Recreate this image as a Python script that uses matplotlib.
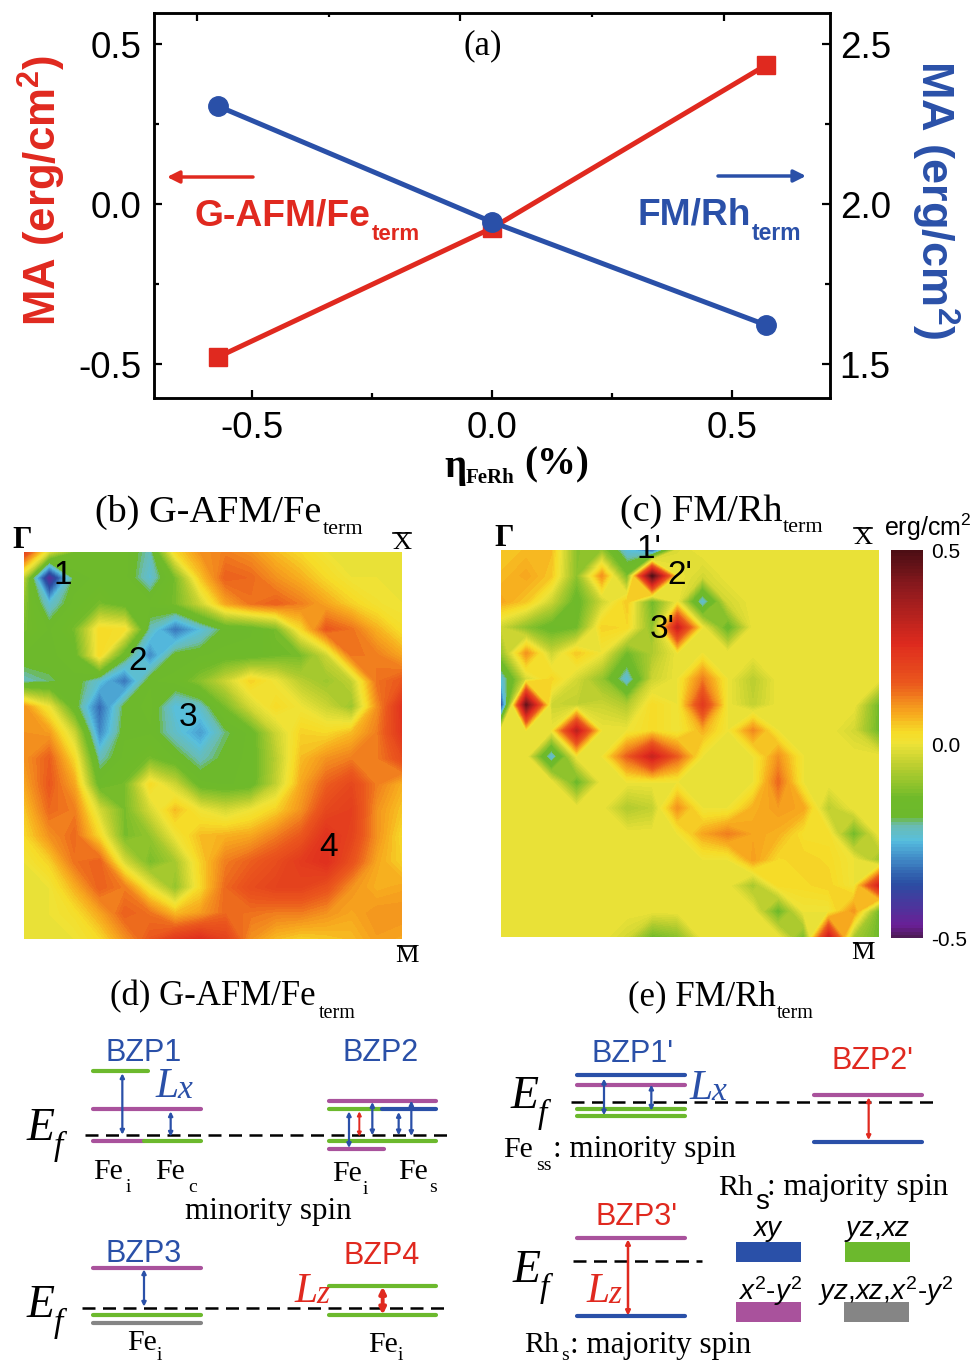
import numpy as np
from matplotlib import pyplot as plt
from matplotlib.colors import LinearSegmentedColormap

plt.rcParams['font.family'] = ['Liberation Sans', 'DejaVu Sans']
plt.rcParams['axes.unicode_minus'] = False
plt.rcParams['mathtext.fontset'] = 'custom'
plt.rcParams['mathtext.rm'] = 'Liberation Sans'
plt.rcParams['mathtext.bf'] = 'Liberation Sans:bold'
plt.rcParams['mathtext.it'] = 'Liberation Sans:italic'

# (a) strain dependence
strain = [-0.57, 0.0, 0.57]
ma_afm = [-0.478, -0.075, 0.434]
ma_fm = [2.306, 1.944, 1.622]
# the top frame has its own ticks, not lined up with the bottom ones
top_major = [-0.613, -0.0665, 0.482]
top_minor = [-0.339, 0.208]

# (b) MA on the BZ grid, G-AFM/Fe term
ma_b = [
    [.20, -.03, -.14, -.16, -.16, -.22, .03, .10, .12, .10, .06, .03, 0, 0, 0, 0],
    [-.06, -.45, -.18, -.16, -.16, -.24, -.13, .05, .15, .14, .10, .07, .03, 0, 0, 0],
    [-.11, -.24, -.16, -.13, -.16, -.16, -.13, -.04, .08, .13, .15, .12, .08, .04, .01, 0],
    [-.13, -.17, -.13, .03, .02, -.22, -.32, -.25, -.18, -.17, -.13, .03, .16, .13, .07, .02],
    [-.17, -.17, -.16, .03, -.17, -.30, -.18, -.17, -.16, -.16, -.14, -.13, -.04, .13, .12, .08],
    [-.22, -.20, -.17, -.24, -.32, -.17, -.16, -.11, -.04, .04, 0, -.06, -.09, -.05, .13, .16],
    [.10, 0, -.17, -.33, -.18, -.16, -.25, -.23, -.13, -.03, .03, 0, -.04, -.09, .10, .24],
    [.10, .09, -.04, -.30, -.17, -.17, -.23, -.28, -.20, -.16, -.04, .04, .03, .06, .12, .23],
    [.10, .15, .03, -.22, -.16, -.13, -.17, -.22, -.18, -.16, -.06, .06, .10, .12, .12, .18],
    [.08, .16, .08, -.16, -.13, .03, -.04, -.16, -.17, -.16, -.05, .08, .15, .19, .12, .07],
    [.05, .14, .12, -.03, -.13, -.03, .06, 0, -.03, 0, .04, .10, .19, .21, .10, .05],
    [.03, .10, .14, .03, -.13, -.10, 0, .06, .07, .08, .12, .16, .24, .20, .10, .03],
    [0, .04, .13, .15, -.03, -.13, -.08, .04, .12, .15, .18, .22, .25, .17, .08, .04],
    [0, 0, .07, .15, .12, 0, -.10, .03, .14, .18, .20, .20, .17, .10, .07, .08],
    [0, 0, .02, .08, .15, .13, .06, .09, .14, .13, .12, .12, .10, .08, .10, .10],
    [0, 0, 0, .03, .10, .16, .22, .25, .20, .10, .06, .04, .05, .06, .09, .08],
]

# (c) MA on the BZ grid, FM/Rh term
ma_c = [
    [.05, .06, .06, -.11, -.10, -.25, -.35, -.02, 0, 0, 0, 0, 0, 0, 0, 0],
    [.06, .08, .05, -.11, .10, -.13, .48, 0, -.03, 0, 0, 0, 0, 0, 0, 0],
    [.08, .05, -.04, -.16, -.04, .05, -.14, 0, -.25, -.03, 0, 0, 0, 0, 0, 0],
    [-.04, -.11, -.16, -.14, .04, .03, -.11, .30, 0, -.16, 0, 0, 0, 0, 0, 0],
    [-.10, .10, -.04, .05, 0, -.14, -.07, 0, 0, 0, 0, 0, 0, 0, 0, 0],
    [-.25, -.03, .04, -.03, -.10, -.25, -.04, 0, .12, 0, -.06, 0, 0, 0, 0, 0],
    [-.38, .45, -.04, -.05, -.04, -.07, .03, 0, .22, 0, -.05, 0, 0, 0, 0, -.14],
    [0, 0, 0, .32, 0, 0, .03, 0, .07, 0, .11, 0, 0, 0, -.03, -.14],
    [0, 0, -.25, 0, 0, .15, .30, .15, 0, 0, 0, .10, 0, 0, 0, 0],
    [0, 0, 0, -.15, 0, 0, 0, 0, 0, 0, 0, .14, 0, 0, 0, 0],
    [0, 0, 0, 0, 0, -.07, -.05, .10, 0, 0, .07, .09, .08, -.06, 0, 0],
    [0, 0, 0, 0, 0, 0, 0, 0, .08, .12, .08, .07, .02, .02, -.14, 0],
    [0, 0, 0, 0, 0, 0, 0, 0, 0, 0, .09, .03, .04, .03, 0, -.09],
    [0, 0, 0, 0, 0, 0, 0, 0, 0, 0, -.08, .03, .03, .04, 0, .28],
    [0, 0, 0, 0, 0, 0, 0, 0, 0, 0, 0, -.15, 0, 0, .10, -.14],
    [0, 0, 0, 0, 0, -.03, -.14, -.11, 0, 0, 0, 0, -.13, .30, -.08, -.14],
]

cbar_ticks = [-0.5, 0.0, 0.5]
cbar_labels = ['-0.5', '0.0', '0.5']

RED = '#e0291f'
BLUE = '#2a50a8'
GREEN = '#6cb92d'
PURPLE = '#a9529c'
GRAY = '#858585'

# energy levels: x from, x to, height, colour (zoomed crop units, divided by 3 below)
levels_d = [
    (280, 445, 304, GREEN), (280, 602, 418, PURPLE), (280, 432, 514, PURPLE), (432, 602, 514, GREEN),
    (988, 1308, 392, PURPLE), (988, 1145, 418, GREEN), (1145, 1308, 418, BLUE),
    (988, 1308, 514, GREEN), (988, 1152, 537, PURPLE),
    (280, 602, 893, PURPLE), (280, 602, 1034, GREEN), (280, 602, 1058, GRAY),
    (988, 1308, 949, GREEN), (988, 1308, 1034, GREEN),
]
arrows_d = [
    (367, 310, 494, BLUE, 1.6), (512, 424, 500, BLUE, 1.6),
    (1047, 424, 534, BLUE, 1.6), (1078, 424, 500, RED, 1.4), (1117, 396, 496, BLUE, 1.6),
    (1196, 426, 496, BLUE, 1.6), (1234, 392, 498, BLUE, 1.6),
    (432, 898, 1010, BLUE, 1.6), (1148, 950, 1034, RED, 2.8),
]
dashes_d = [(255, 1340, 494), (245, 1335, 1013)]
levels_e = [
    (262, 585, 316, BLUE), (262, 585, 345, PURPLE), (262, 585, 418, GREEN), (262, 585, 438, GREEN),
    (972, 1295, 375, PURPLE), (972, 1295, 516, BLUE),
    (262, 585, 803, PURPLE), (262, 585, 1037, BLUE),
]
arrows_e = [
    (342, 326, 436, BLUE, 1.6), (484, 344, 422, BLUE, 1.6),
    (1136, 382, 510, RED, 1.6), (414, 808, 1037, RED, 1.8),
]
dashes_e = [(242, 1330, 395), (248, 635, 872)]

W, H = 974, 1363
fig = plt.figure(figsize=(W / 100, H / 100), dpi=100)


def px_axes(x0, y0, x1, y1, **kw):
    return fig.add_axes([x0 / W, 1 - y1 / H, (x1 - x0) / W, (y1 - y0) / H], **kw)


# colours
ma_cmap = LinearSegmentedColormap.from_list('ma', [
    (0.00, '#4a1a4e'), (0.03, '#6a1f96'), (0.14, '#2a4ea3'), (0.20, '#3f86c4'), (0.25, '#56bfe0'),
    (0.29, '#6bbcb0'), (0.31, '#6cb92d'), (0.36, '#6fba2a'), (0.45, '#c0d030'), (0.50, '#efe338'),
    (0.53, '#f6dc28'), (0.58, '#f7a81e'), (0.66, '#ea561d'), (0.76, '#de2a1e'), (0.90, '#8f1a1e'), (1.00, '#4a0d14'),
])
ma_levels = np.linspace(-0.5, 0.5, 121)

# panel (a)
ax = px_axes(154, 13, 830, 398)
ax.plot(strain, ma_afm, '-s', color=RED, lw=3.6, ms=12.5)
ax.set_xlim(-0.703, 0.703)
ax.set_ylim(-0.606, 0.597)
ax.set_xticks([-0.5, 0.0, 0.5])
ax.set_xticks([-0.25, 0.25], minor=True)
ax.set_yticks([-0.5, 0.0, 0.5])
ax.set_yticks([-0.25, 0.25], minor=True)
ax.tick_params(which='major', direction='in', length=6, width=1.6, labelsize=26.5, pad=9)
ax.tick_params(which='minor', direction='in', length=3.5, width=1.6)
ax.vlines(top_major, 0.98, 1, transform=ax.get_xaxis_transform(), color='black', lw=1.6)
ax.vlines(top_minor, 0.989, 1, transform=ax.get_xaxis_transform(), color='black', lw=1.6)
ax2 = ax.twinx()
ax2.plot(strain, ma_fm, '-o', color=BLUE, lw=3.6, ms=14)
ax2.set_ylim(1.394, 2.597)
ax2.set_yticks([1.5, 2.0, 2.5])
ax2.set_yticks([1.75, 2.25], minor=True)
ax2.tick_params(which='major', direction='in', length=6, width=1.6, labelsize=26.5, pad=7)
ax2.tick_params(which='minor', direction='in', length=3.5, width=1.6)
for a in (ax, ax2):
    for s in a.spines.values():
        s.set_linewidth(1.8)

# panels (b), (c)
ax_b = px_axes(24, 552, 402, 939)
ax_c = px_axes(501, 550, 879, 937)
grid = np.arange(16)
cs = ax_b.contourf(grid, grid, np.array(ma_b), levels=ma_levels, cmap=ma_cmap, vmin=-0.5, vmax=0.5, antialiased=False)
ax_c.contourf(grid, grid, np.array(ma_c), levels=ma_levels, cmap=ma_cmap, vmin=-0.5, vmax=0.5, antialiased=False)
for a in (ax_b, ax_c):
    a.invert_yaxis()
    a.axis('off')

cax = px_axes(891, 550, 923, 938)
cb = fig.colorbar(cs, cax=cax)
cb.outline.set_visible(False)
cb.set_ticks([])
cb.ax.minorticks_off()

# everything else sits on an overlay measured in image pixels
ov = fig.add_axes([0, 0, 1, 1], zorder=10)
ov.set_xlim(0, W)
ov.set_ylim(H, 0)
ov.axis('off')
ov.patch.set_alpha(0)

SERIF = ['Liberation Serif', 'DejaVu Serif']
SANS = ['Liberation Sans', 'DejaVu Sans']


def txt(x, y, s, size, color='black', family=SERIF, ha='center', va='center', **kw):
    # va center sits a little high for these fonts
    ov.text(x, y + 2, s, fontsize=size, color=color, family=family, ha=ha, va=va, **kw)


# panel (a) texts
txt(42, 188, r'MA (erg/cm$\mathbf{^2}$)', 31.5, RED, SANS, weight='bold', rotation=90)
txt(935, 198, r'MA (erg/cm$\mathbf{^2}$)', 32.5, BLUE, SANS, weight='bold', rotation=-90)
txt(483, 44, '(a)', 25)
txt(195, 214, 'G-AFM/Fe', 26.8, RED, SANS, ha='left', weight='bold')
txt(372, 233, 'term', 16, RED, SANS, ha='left', weight='bold')
txt(638, 213, 'FM/Rh', 26.7, BLUE, SANS, ha='left', weight='bold')
txt(752, 232, 'term', 16.5, BLUE, SANS, ha='left', weight='bold')
txt(444, 466, '\u03b7', 28, ha='left', weight='bold')
txt(466, 476, 'FeRh', 15, ha='left', weight='bold')
txt(524, 463, '(%)', 28, ha='left', weight='bold')
ov.annotate('', xy=(167, 177), xytext=(253, 177), arrowprops=dict(arrowstyle='-|>', color=RED, lw=2.5, mutation_scale=18, shrinkA=0, shrinkB=0))
ov.annotate('', xy=(806, 176), xytext=(718, 176), arrowprops=dict(arrowstyle='-|>', color=BLUE, lw=2.5, mutation_scale=18, shrinkA=0, shrinkB=0))

# panel titles
for x, y, s, xs, ys, size, sub in [
    (95, 510, '(b) G-AFM/Fe', 323, 527, 27.5, 16),
    (620, 510, '(c) FM/Rh', 783, 526, 27.5, 16),
    (110, 995, '(d) G-AFM/Fe', 319, 1011, 25, 14.5),
    (628, 995, '(e) FM/Rh', 777, 1011, 25, 14.5),
]:
    txt(x, y, s, size, ha='left')
    txt(xs, ys, 'term', sub, ha='left')

# symmetry points, the X and M ones with bars on top
for x, y in [(22, 538), (504, 537)]:
    txt(x, y, '\u0393', 22, weight='bold')
for x, y, s in [(402, 541, 'X'), (407, 954, 'M'), (863, 536, 'X'), (863, 951, 'M')]:
    txt(x, y, s, 19)
    ov.plot([x - 9, x + 9], [y - 8, y - 8], color='black', lw=1.2)

for x, y, s in [(63, 573, '1'), (138, 660, '2'), (188, 715, '3'), (329, 845, '4'), (649, 548, "1'"), (680, 573, "2'"), (662, 628, "3'")]:
    txt(x, y, s, 24, family=SANS)

txt(928, 525, r'erg/cm$^2$', 18, family=SANS)
for v, s in zip(cbar_ticks, cbar_labels):
    txt(931, 939 - (v + 0.5) * 388, s, 15, family=SANS, ha='left')


# panels (d), (e): levels, arrows and dashed Fermi lines
def draw_levels(levels, arrows, dashes, xoff):
    for x0, x1, y, c in levels:
        ov.plot([xoff + x0 / 3, xoff + x1 / 3], [970 + y / 3, 970 + y / 3], color=c, lw=3, solid_capstyle='round')
    for x0, x1, y in dashes:
        ov.plot([xoff + x0 / 3, xoff + x1 / 3], [970 + y / 3, 970 + y / 3], color='black', lw=1.8, ls=(0, (5.2, 3)), zorder=3)
    for x, y0, y1, c, lw in arrows:
        ov.annotate('', xy=(xoff + x / 3, 970 + y1 / 3), xytext=(xoff + x / 3, 970 + y0 / 3), zorder=4,
                    arrowprops=dict(arrowstyle='<|-|>', color=c, lw=lw, mutation_scale=2.5 * lw + 2, shrinkA=0, shrinkB=0))


draw_levels(levels_d, arrows_d, dashes_d, 0)
draw_levels(levels_e, arrows_e, dashes_e, 490)

BZP = 22
for x, y, s, c in [(144, 1051, 'BZP1', BLUE), (381, 1051, 'BZP2', BLUE), (144, 1252, 'BZP3', BLUE), (382, 1254, 'BZP4', RED),
                   (633, 1052, "BZP1'", BLUE), (872, 1059, "BZP2'", RED), (637, 1215, "BZP3'", RED)]:
    txt(x, y, s, BZP, c, SANS)

# E_f labels
for x, y in [(41, 1127), (41, 1304), (525, 1095), (527, 1269)]:
    txt(x, y, 'E', 33, style='italic')
    txt(x + 17, y + 17, 'f', 24, style='italic')

for x, y, c, a, b in [(172, 1085, BLUE, 'L', 'x'), (706, 1087, BLUE, 'L', 'x'), (311, 1290, RED, 'L', 'z'), (603, 1290, RED, 'L', 'z')]:
    txt(x - 17, y, a, 30, c, ha='left', style='italic')
    txt(x + 5, y + 3, b, 24, c, ha='left', style='italic')

# Fe labels with subscripts
for x, y, xs, ys, sub in [(108, 1170, 128, 1186, 'i'), (170, 1170, 193, 1186, 'c'), (347, 1172, 365, 1187, 'i'), (413, 1170, 433, 1186, 's'),
                          (142, 1341, 159, 1353, 'i'), (383, 1343, 400, 1353, 'i')]:
    txt(x, y, 'Fe', 21.5)
    txt(xs, ys, sub, 14)
txt(268, 1209, 'minority spin', 22.4)

txt(503, 1148, 'Fe', 21.5, ha='left')
txt(536, 1164, 'ss', 14, ha='left')
txt(553, 1148, ': minority spin', 22.4, ha='left')
txt(718, 1186, 'Rh', 21.5, ha='left')
txt(755, 1200, 's', 20, family=SANS, ha='left')
txt(767, 1186, ': majority spin', 22.4, ha='left')
txt(524, 1343, 'Rh', 21.5, ha='left')
txt(561, 1353, 's', 14, ha='left')
txt(570, 1343, ': majority spin', 22.4, ha='left')

# orbital key
for x0, y0, c, xl, s in [(736, 1242, BLUE, 768, r'$\mathit{xy}$'), (845, 1242, GREEN, 877, r'$\mathit{yz{,}xz}$'),
                         (736, 1302, PURPLE, 770, r'$\mathit{x^2}$-$\mathit{y^2}$'), (844, 1302, GRAY, 886, r'$\mathit{yz{,}xz{,}x^2}$-$\mathit{y^2}$')]:
    ov.fill_between([x0, x0 + 65], [y0, y0], [y0 + 20, y0 + 20], color=c, lw=0)
    txt(xl, y0 - 13, s, 20, family=SANS)

fig.savefig('out.png', dpi=100)
